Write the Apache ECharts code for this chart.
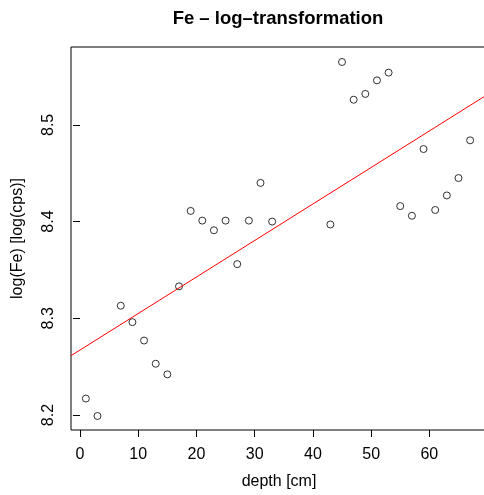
<!DOCTYPE html>
<html>
<head>
<meta charset="utf-8">
<script src="https://cdn.jsdelivr.net/npm/echarts@6/dist/echarts.min.js"></script>
<style>html,body{margin:0;padding:0;background:#fff;overflow:hidden;}#c{width:492px;height:495px;}</style>
</head>
<body>
<div id="c"></div>
<script>
const titleText = 'Fe – log–transformation';
const xName = 'depth [cm]';
const yName = 'log(Fe) [log(cps)]';
const depth = [1,3,7,9,11,13,15,17,19,21,23,25,27,29,31,33,43,45,47,49,51,53,55,57,59,61,63,65,67];
const logFe = [8.217,8.199,8.313,8.296,8.277,8.253,8.242,8.333,8.411,8.401,8.391,8.401,8.356,8.401,8.440,8.400,8.397,8.565,8.526,8.532,8.546,8.554,8.416,8.406,8.475,8.412,8.427,8.445,8.484];
const xTicks = [0,10,20,30,40,50,60];
const yTicks = [8.2,8.3,8.4,8.5];
const fitCoef = [8.2672, 0.003775]; // intercept, slope

const xMin = -1.55, xMax = 69.90;
const yMin = 8.1845, yMax = 8.5805;
const font = '"Liberation Sans", Arial, Helvetica, sans-serif';

const chart = echarts.init(document.getElementById('c'), null, {renderer:'canvas'});
chart.setOption({
  animation:false,
  backgroundColor:'#fff',
  title:{text:titleText,left:278,top:9,padding:0,textAlign:'center',
    textStyle:{fontFamily:font,fontSize:18.5,fontWeight:'bold',color:'#000'}},
  grid:{left:71,top:47,width:416,height:383,show:true,borderColor:'#000',borderWidth:1,backgroundColor:'transparent'},
  xAxis:{type:'value',min:xMin,max:xMax,
    name:xName,nameLocation:'middle',nameGap:44,
    nameTextStyle:{fontFamily:font,fontSize:16,color:'#000'},
    axisLine:{show:false},splitLine:{show:false},
    axisTick:{show:true,length:7,lineStyle:{color:'#000'},customValues:xTicks},
    axisLabel:{fontFamily:font,fontSize:16,color:'#000',margin:17,customValues:xTicks,formatter:v=>String(v)}},
  yAxis:{type:'value',min:yMin,max:yMax,
    name:yName,nameLocation:'middle',nameGap:45,
    nameTextStyle:{fontFamily:font,fontSize:16,color:'#000'},
    axisLine:{show:false},splitLine:{show:false},
    axisTick:{show:true,length:7,lineStyle:{color:'#000'},customValues:yTicks},
    axisLabel:{fontFamily:font,fontSize:16,color:'#000',margin:14,rotate:90,customValues:yTicks,formatter:v=>v.toFixed(1)}},
  series:[
    {type:'scatter',data:depth.map((d,i)=>[d,logFe[i]]),symbol:'circle',symbolSize:7,
     itemStyle:{color:'rgba(0,0,0,0)',borderColor:'#000',borderWidth:1}},
    {type:'line',data:[[xMin,fitCoef[0]+fitCoef[1]*xMin],[xMax,fitCoef[0]+fitCoef[1]*xMax]],
     showSymbol:false,symbol:'none',lineStyle:{color:'#ff0000',width:1},silent:true}
  ]
});
</script>
</body>
</html>
